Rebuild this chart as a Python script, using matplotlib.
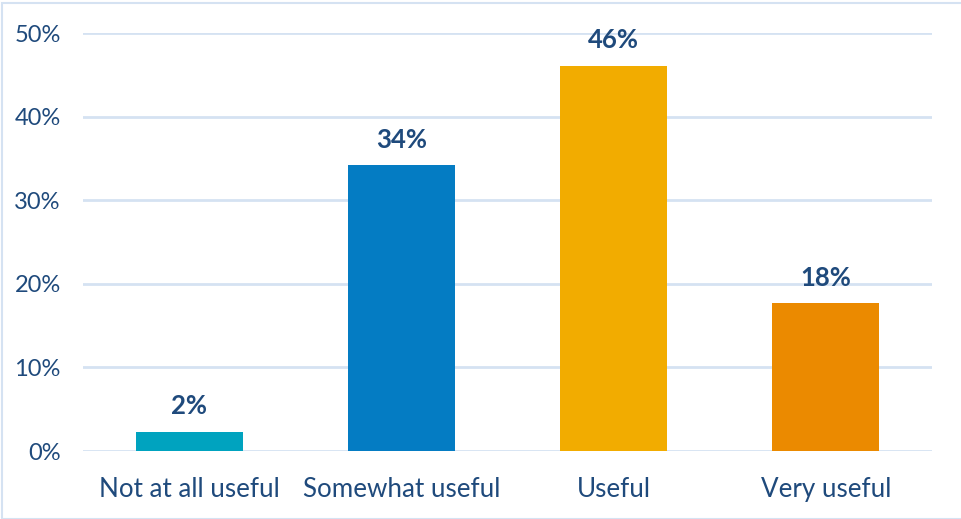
import matplotlib
matplotlib.use("Agg")
import matplotlib.pyplot as plt
from matplotlib.patches import Rectangle

categories = ["Not at all useful", "Somewhat useful", "Useful", "Very useful"]
values = [2.3, 34.2, 46.1, 17.7]
labels = ["2%", "34%", "46%", "18%"]
colors = ["#00A3BF", "#047CC3", "#F2AC00", "#EB8A00"]
yticks = [0, 10, 20, 30, 40, 50]
ytick_labels = ["0%", "10%", "20%", "30%", "40%", "50%"]

text_color = "#1F4A7C"
grid_color = "#D5E2F2"

plt.rcParams['font.family'] = ['Lato', 'DejaVu Sans']

fig = plt.figure(figsize=(9.61, 5.19), dpi=100)
ax = fig.add_axes([83/961, 1-451/519, (932-83)/961, (451-33)/519])

x = list(range(len(categories)))
ax.bar(x, values, width=0.505, color=colors, zorder=3)
for xi, v, lab in zip(x, values, labels):
    ax.annotate(lab, (xi, v), xytext=(0, 12.5), textcoords="offset points",
                ha="center", va="baseline", fontsize=18.5, fontweight="bold",
                color=text_color)

ax.set_xlim(-0.5, len(categories) - 0.5)
ax.set_ylim(0, 50)
ax.set_yticks(yticks)
ax.set_yticklabels(ytick_labels)
ax.set_xticks(x)
ax.set_xticklabels(categories)
ax.yaxis.grid(True, color=grid_color, linewidth=2, zorder=0)
ax.set_axisbelow(True)
for s in ax.spines.values():
    s.set_visible(False)
ax.tick_params(axis="both", length=0, colors=text_color)
ax.tick_params(axis="y", pad=16, labelsize=17)
ax.tick_params(axis="x", pad=19, labelsize=18.7)

fig.patches.append(Rectangle((2/961, 0), 1, 1 - 3/519, transform=fig.transFigure,
                             fill=False, edgecolor=grid_color, linewidth=1.5))

fig.savefig("out.png", dpi=100)
